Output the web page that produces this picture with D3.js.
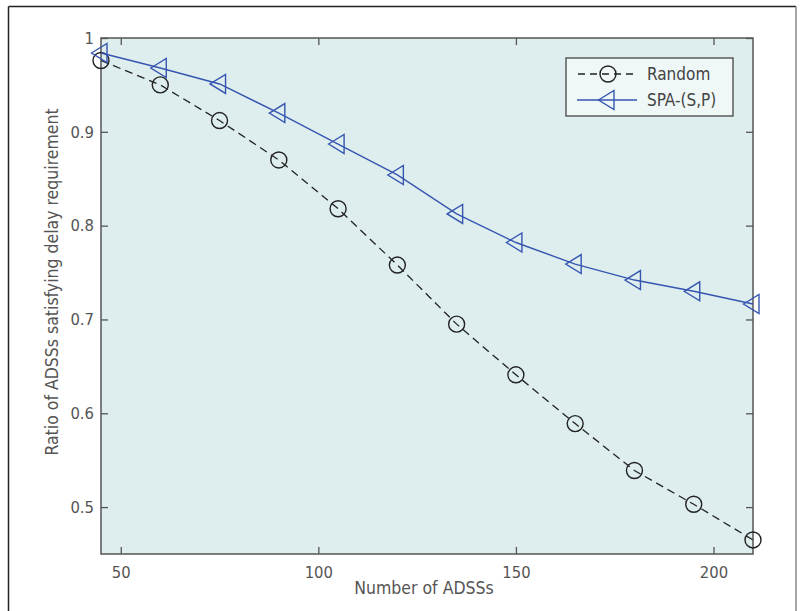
<!DOCTYPE html>
<html>
<head>
<meta charset="utf-8">
<script src="https://cdn.jsdelivr.net/npm/d3@7"></script>
<style>
  body { margin: 0; background: #fff; }
  text { font-family: 'Liberation Sans Narrow', 'DejaVu Sans Condensed', 'Roboto', sans-serif; }
</style>
</head>
<body>
<div id="chart"></div>
<script>
const nodes = [45, 60, 75, 90, 105, 120, 135, 150, 165, 180, 195, 210]
const randomValues = [0.976, 0.950, 0.912, 0.870, 0.818, 0.758, 0.695, 0.641, 0.589, 0.539, 0.503, 0.465]
const spaValues = [0.984, 0.968, 0.951, 0.920, 0.887, 0.854, 0.8125, 0.782, 0.759, 0.742, 0.730, 0.7165]
const xTicks = [50, 100, 150, 200]
const yTicks = [0.5, 0.6, 0.7, 0.8, 0.9, 1]
const seriesNames = ['Random', 'SPA-(S,P)']

const margin = { top: 38, right: 51, bottom: 57, left: 101 }
const width = 804 - margin.left - margin.right
const height = 611 - margin.top - margin.bottom

const svg = d3
  .select('#chart')
  .append('svg')
  .attr('width', 804)
  .attr('height', 611)

// outer frame of the figure
svg.append('line').attr('x1', 8.5).attr('y1', 6.5).attr('x2', 796).attr('y2', 6.5)
  .attr('stroke', '#222').attr('stroke-width', 1.5)
svg.append('line').attr('x1', 8.5).attr('y1', 6.5).attr('x2', 8.5).attr('y2', 611)
  .attr('stroke', '#222').attr('stroke-width', 1.5)
svg.append('line').attr('x1', 796).attr('y1', 6.5).attr('x2', 796).attr('y2', 611)
  .attr('stroke', '#888').attr('stroke-width', 1.5)

const g = svg.append('g')
  .attr('transform', 'translate(' + margin.left + ',' + margin.top + ')')

const x = d3.scaleLinear().domain([45, 210]).range([0, width])
const y = d3.scaleLinear().domain([0.45, 1]).range([height, 0])

g.append('rect')
  .attr('width', width)
  .attr('height', height)
  .attr('fill', '#deeeee')

const tickFmt = d => (d === 1 ? '1' : d3.format('.1f')(d))

const axisStyle = sel => {
  sel.selectAll('.domain').remove()
  sel.selectAll('line').attr('stroke', '#555').attr('stroke-width', 1.3)
  sel.selectAll('text').attr('fill', '#555').attr('font-size', 16.5)
    .style('font-family', "'Liberation Sans Narrow', 'DejaVu Sans Condensed', sans-serif")
}

g.append('g')
  .attr('transform', 'translate(0,' + height + ')')
  .call(d3.axisBottom(x).tickValues(xTicks).tickSizeInner(-7).tickSizeOuter(0).tickPadding(12))
  .call(axisStyle)

g.append('g')
  .call(d3.axisTop(x).tickValues(xTicks).tickSizeInner(-7).tickSizeOuter(0).tickFormat(''))
  .call(axisStyle)

g.append('g')
  .call(d3.axisLeft(y).tickValues(yTicks).tickSizeInner(-7).tickSizeOuter(0).tickPadding(7).tickFormat(tickFmt))
  .call(axisStyle)

g.append('g')
  .attr('transform', 'translate(' + width + ',0)')
  .call(d3.axisRight(y).tickValues(yTicks).tickSizeInner(-7).tickSizeOuter(0).tickFormat(''))
  .call(axisStyle)

g.append('rect')
  .attr('width', width)
  .attr('height', height)
  .attr('fill', 'none')
  .attr('stroke', '#555')
  .attr('stroke-width', 1.5)

const line = d3.line()
  .x((d, i) => x(nodes[i]))
  .y(d => y(d))

const triPath = 'M-9.5,0 L6,-9.5 L6,9.5 Z'

// Random series
g.append('path')
  .datum(randomValues)
  .attr('d', line)
  .attr('fill', 'none')
  .attr('stroke', '#222')
  .attr('stroke-width', 1.3)
  .attr('stroke-dasharray', '8,5')

g.selectAll('.rnd')
  .data(randomValues)
  .enter()
  .append('circle')
  .attr('class', 'rnd')
  .attr('cx', (d, i) => x(nodes[i]))
  .attr('cy', d => y(d))
  .attr('r', 8)
  .attr('fill', 'none')
  .attr('stroke', '#222')
  .attr('stroke-width', 1.4)

// SPA series
g.append('path')
  .datum(spaValues)
  .attr('d', line)
  .attr('fill', 'none')
  .attr('stroke', '#3655b0')
  .attr('stroke-width', 1.4)

g.selectAll('.spa')
  .data(spaValues)
  .enter()
  .append('path')
  .attr('class', 'spa')
  .attr('d', triPath)
  .attr('transform', (d, i) => 'translate(' + x(nodes[i]) + ',' + y(d) + ')')
  .attr('fill', 'none')
  .attr('stroke', '#3655b0')
  .attr('stroke-width', 1.4)

// axis titles
svg.append('text')
  .attr('x', (margin.left + margin.left + width) / 2 - 3)
  .attr('y', 594)
  .attr('text-anchor', 'middle')
  .attr('font-size', 17.5)
  .attr('fill', '#555')
  .text('Number of ADSSs')

svg.append('text')
  .attr('transform', 'translate(58,282) rotate(-90)')
  .attr('text-anchor', 'middle')
  .attr('font-size', 17.5)
  .attr('fill', '#555')
  .text('Ratio of ADSSs satisfying delay requirement')

// legend
const legend = svg.append('g').attr('transform', 'translate(566,58)')
legend.append('rect')
  .attr('width', 167)
  .attr('height', 58)
  .attr('fill', '#eff7f7')
  .attr('stroke', '#444')
  .attr('stroke-width', 1.3)

const legendRows = legend.selectAll('.row')
  .data(seriesNames)
  .enter()
  .append('g')
  .attr('class', 'row')
  .attr('transform', (d, i) => 'translate(0,' + (16 + i * 26) + ')')

legendRows.append('line')
  .attr('x1', 11)
  .attr('x2', 71)
  .attr('stroke', (d, i) => (i === 0 ? '#222' : '#3655b0'))
  .attr('stroke-width', 1.3)
  .attr('stroke-dasharray', (d, i) => (i === 0 ? '7,5' : null))
  .attr('stroke-dashoffset', (d, i) => (i === 0 ? -1 : null))

legendRows.filter((d, i) => i === 0)
  .append('circle')
  .attr('cx', 42)
  .attr('r', 8)
  .attr('fill', 'none')
  .attr('stroke', '#222')
  .attr('stroke-width', 1.4)

legendRows.filter((d, i) => i === 1)
  .append('path')
  .attr('d', triPath)
  .attr('transform', 'translate(42,0)')
  .attr('fill', 'none')
  .attr('stroke', '#3655b0')
  .attr('stroke-width', 1.4)

legendRows.append('text')
  .attr('x', 81)
  .attr('dy', '0.35em')
  .attr('font-size', 17)
  .attr('fill', '#444')
  .text(d => d)
</script>
</body>
</html>
